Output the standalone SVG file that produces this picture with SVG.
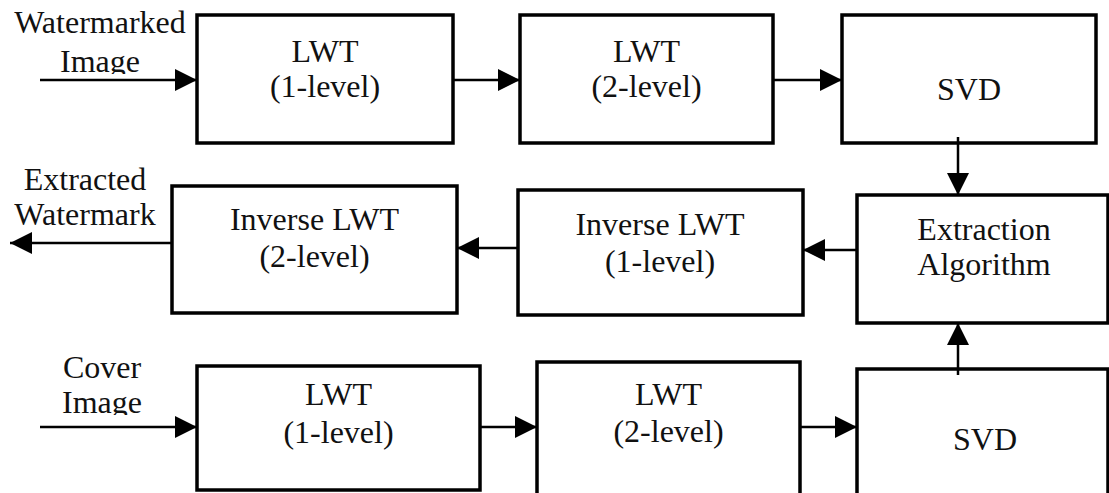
<svg xmlns="http://www.w3.org/2000/svg" width="1109" height="493" viewBox="0 0 1109 493">
<style>
.box{fill:#fff;stroke:#000;stroke-width:3.5}
.t{font-family:"Liberation Serif","Times New Roman",serif;font-size:32px;fill:#111;text-anchor:middle}
.c{fill:none;stroke:#000;stroke-width:2.5;marker-end:url(#ah)}
</style>
<defs>
<marker id="ah" markerUnits="userSpaceOnUse" markerWidth="24" markerHeight="24" refX="22" refY="11" orient="auto" viewBox="0 0 24 24">
<path d="M0,0 L22,11 L0,22 z" fill="#000"/>
</marker>
<clipPath id="clipTop"><rect x="0" y="0" width="200" height="74"/></clipPath>
<clipPath id="clipBot"><rect x="0" y="340" width="200" height="75"/></clipPath>
</defs>
<rect width="1109" height="493" fill="#fff"/>
<g id="lbl-watermarked" clip-path="url(#clipTop)">
<text class="t" x="100" y="33">Watermarked</text>
<text class="t" x="100" y="72">Image</text>
</g>
<g id="lwt1-top"><rect class="box" x="197" y="15" width="256" height="128"/>
<text class="t" x="325" y="62">LWT</text><text class="t" x="325" y="97">(1-level)</text></g>
<g id="lwt2-top"><rect class="box" x="520" y="15" width="253" height="128"/>
<text class="t" x="646.5" y="62">LWT</text><text class="t" x="646.5" y="97">(2-level)</text></g>
<g id="svd-top"><rect class="box" x="842" y="15" width="254" height="128"/>
<text class="t" x="969" y="100">SVD</text></g>
<g id="lbl-extracted">
<text class="t" x="85" y="190">Extracted</text>
<text class="t" x="85" y="225">Watermark</text>
</g>
<g id="ilwt2"><rect class="box" x="172" y="186" width="285" height="127"/>
<text class="t" x="314.5" y="230">Inverse LWT</text><text class="t" x="314.5" y="267">(2-level)</text></g>
<g id="ilwt1"><rect class="box" x="518" y="190" width="285" height="125"/>
<text class="t" x="660" y="235">Inverse LWT</text><text class="t" x="660" y="272">(1-level)</text></g>
<g id="extraction"><rect class="box" x="857" y="195" width="251" height="128"/>
<text class="t" x="984" y="240">Extraction</text><text class="t" x="984" y="275">Algorithm</text></g>
<g id="lbl-cover" clip-path="url(#clipBot)">
<text class="t" x="102" y="378">Cover</text>
<text class="t" x="102" y="413">Image</text>
</g>
<g id="lwt1-bot"><rect class="box" x="197" y="366" width="283" height="124"/>
<text class="t" x="338.5" y="405">LWT</text><text class="t" x="338.5" y="443">(1-level)</text></g>
<g id="lwt2-bot"><rect class="box" x="537" y="362" width="263" height="150"/>
<text class="t" x="668.5" y="405">LWT</text><text class="t" x="668.5" y="442">(2-level)</text></g>
<g id="svd-bot"><rect class="box" x="857" y="369" width="251" height="150"/>
<text class="t" x="985" y="450">SVD</text></g>
<g id="connectors">
<path class="c" d="M40,80 H197"/>
<path class="c" d="M453,80 H520"/>
<path class="c" d="M773,80 H842"/>
<path class="c" d="M958,137 V195"/>
<path class="c" d="M958,375 V323"/>
<path class="c" d="M857,250 H803"/>
<path class="c" d="M518,248 H457"/>
<path class="c" d="M172,243 H10"/>
<path class="c" d="M40,427 H197"/>
<path class="c" d="M480,427 H537"/>
<path class="c" d="M800,427 H857"/>
</g>
</svg>
